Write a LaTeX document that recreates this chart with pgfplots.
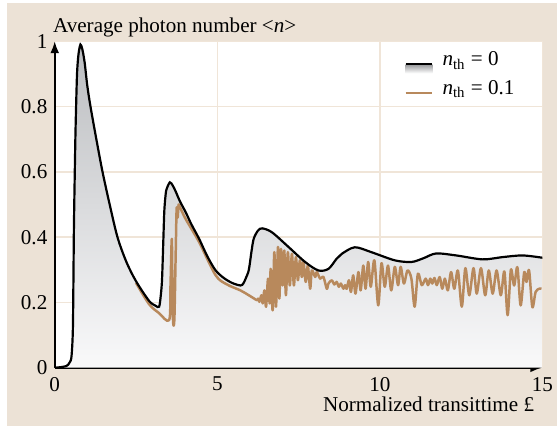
\documentclass[border=0pt]{standalone}
\usepackage{pgfplots}
\pgfplotsset{compat=1.18}
\usepackage{pgfplotstable}
\usepackage{fontspec}
\setmainfont{Liberation Serif}
\usetikzlibrary{arrows.meta}
\definecolor{bg}{HTML}{ECE2D6}
\definecolor{gridc}{HTML}{F0E5D8}
\definecolor{brownc}{HTML}{B8895C}
\definecolor{shtop}{HTML}{BBBDC0}
\definecolor{shbot}{HTML}{F9F9FA}

\pgfplotstableread{
t v
0 0.0
0.2 0.002
0.35 0.005
0.41 0.009
0.47 0.018
0.51 0.03
0.54 0.07
0.56 0.13
0.575 0.27
0.59 0.43
0.62 0.62
0.64 0.73
0.67 0.85
0.69 0.91
0.73 0.96
0.79 0.99
0.85 0.975
0.92 0.935
1.0 0.865
1.1 0.80
1.28 0.70
1.47 0.60
1.69 0.50
1.93 0.40
2.2 0.325
2.5 0.265
2.9 0.205
3.1 0.19
3.21 0.187
3.26 0.22
3.3 0.27
3.34 0.39
3.37 0.48
3.41 0.53
3.44 0.547
3.54 0.568
3.63 0.558
3.72 0.54
3.85 0.51
4.03 0.476
4.2 0.44
4.44 0.395
4.7 0.34
4.95 0.298
5.2 0.275
5.45 0.26
5.71 0.252
5.8 0.258
5.88 0.275
5.97 0.30
6.05 0.355
6.12 0.395
6.25 0.42
6.38 0.427
6.68 0.415
7.19 0.37
7.7 0.324
8.11 0.298
8.42 0.303
8.67 0.334
8.83 0.349
9.23 0.369
9.74 0.354
10.46 0.329
10.97 0.324
11.33 0.335
11.73 0.35
12.35 0.344
13.16 0.332
13.78 0.339
14.39 0.344
15.0 0.337
}\blackdata

\pgfplotstableread{
t v
2.5 0.26
2.9 0.195
3.2 0.168
3.52 0.146
3.56 0.25
3.6 0.395
3.62 0.25
3.64 0.14
3.68 0.15
3.72 0.35
3.75 0.49
3.78 0.46
3.81 0.50
3.86 0.49
4.03 0.455
4.44 0.385
4.95 0.283
5.3 0.255
5.71 0.237
5.97 0.222
6.22 0.207
6.254 0.212
6.295 0.202
6.357 0.222
6.397 0.197
6.449 0.237
6.5 0.187
6.561 0.273
6.612 0.197
6.642 0.303
6.703 0.176
6.754 0.354
6.805 0.187
6.867 0.37
6.908 0.212
6.958 0.364
7.01 0.252
7.06 0.359
7.11 0.222
7.17 0.354
7.23 0.252
7.295 0.349
7.356 0.252
7.417 0.339
7.479 0.268
7.54 0.329
7.6 0.278
7.65 0.324
7.72 0.263
7.785 0.313
7.856 0.242
7.907 0.298
8.01 0.278
8.06 0.293
8.163 0.273
8.265 0.278
8.367 0.242
8.42 0.258
8.52 0.268
8.6 0.255
8.67 0.263
8.74 0.248
8.8 0.258
8.88 0.242
8.93 0.253
8.98 0.242
9.05 0.268
9.11 0.232
9.18 0.283
9.25 0.227
9.34 0.293
9.41 0.237
9.49 0.313
9.56 0.242
9.64 0.324
9.72 0.248
9.83 0.329
9.95 0.191
10.05 0.32
10.15 0.248
10.25 0.313
10.35 0.237
10.46 0.309
10.56 0.253
10.64 0.309
10.74 0.258
10.85 0.298
10.97 0.273
11.07 0.187
11.17 0.288
11.29 0.253
11.41 0.273
11.48 0.253
11.55 0.273
11.61 0.258
11.68 0.275
11.75 0.253
11.84 0.278
11.92 0.242
12.0 0.273
12.09 0.237
12.19 0.293
12.29 0.242
12.4 0.298
12.52 0.187
12.63 0.305
12.75 0.222
12.88 0.305
12.98 0.227
13.11 0.305
13.24 0.222
13.35 0.298
13.47 0.227
13.59 0.298
13.72 0.222
13.83 0.295
13.93 0.161
14.03 0.30
14.13 0.252
14.23 0.308
14.33 0.191
14.44 0.293
14.51 0.263
14.59 0.298
14.69 0.186
14.79 0.232
14.9 0.242
14.97 0.242
}\browndata

\begin{document}
\fontsize{10.6pt}{12.7pt}\selectfont
\begin{tikzpicture}
\fill[white] (-27.5pt,-30.75pt) rectangle (252.5pt,184.75pt);
\fill[bg] (-24pt,-29.25pt) rectangle (252.5pt,183.25pt);
\begin{axis}[
  at={(0pt,0pt)}, anchor=south west,
  scale only axis, width=245pt, height=164pt,
  xmin=0, xmax=15, ymin=0, ymax=1,
  axis lines=left,
  axis line style={line width=0.9pt, -{Latex[length=6pt,width=4.5pt]}},
  axis background/.style={fill=white},
  xtick={0,5,10,15}, ytick={0,0.2,0.4,0.6,0.8,1},
  xticklabels={0,5,10,15},
  yticklabels={0,0.2,0.4,0.6,0.8,1},
  ticklabel style={font=\rmfamily},
  major tick length=0pt,
  grid=major,
  major grid style={draw=gridc, line width=0.75pt},
  /pgf/number format/assume math mode=true,
  xticklabel style={yshift=-1pt},
  legend style={draw=none, fill=none, at={(axis cs:10.74,0.975)}, anchor=north west,
    inner sep=0pt, row sep=0pt, cells={anchor=west},
    nodes={inner sep=0pt, text height=8pt, text depth=6.5pt, font=\rmfamily}},
  legend cell align=left,
  reverse legend,
]
\addplot[draw=none, top color=shtop, bottom color=shbot, smooth, forget plot] table[x=t,y=v] {\blackdata} \closedcycle;
\addplot[color=brownc, line width=1.25pt, smooth, line join=round,
  legend image code/.code={\draw[brownc, line width=1.2pt] (0pt,0pt) -- (13.5pt,0pt); \path (18pt,0pt);}]
  table[x=t,y=v] {\browndata};
\addlegendentry{\textit{n}\textsubscript{th} = 0.1}
\addplot[color=black, line width=1.1pt, smooth,
  legend image code/.code={\fill[top color=shtop!80!black, bottom color=white, draw=none] (0pt,-4.5pt) rectangle (13.5pt,0pt); \draw[black, line width=1.1pt] (0pt,0pt) -- (13.5pt,0pt); \path (18pt,0pt);}]
  table[x=t,y=v] {\blackdata};
\addlegendentry{\textit{n}\textsubscript{th} = 0}
\end{axis}
\node[anchor=base west, inner sep=0pt] at (-1pt,168.25pt) {Average photon number <\textit{n}>};
\node[anchor=base east, inner sep=0pt] at (241pt,-21.75pt) {Normalized transittime £};
\end{tikzpicture}
\end{document}
